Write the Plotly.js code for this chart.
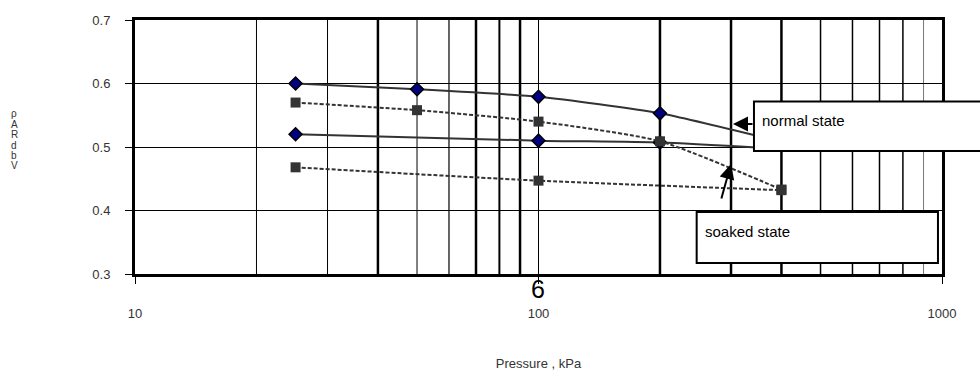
<!DOCTYPE html>
<html>
<head>
<meta charset="utf-8">
<script src="https://cdn.plot.ly/plotly-3.0.1.min.js"></script>
<style>html,body{margin:0;padding:0;background:#fff;}</style>
</head>
<body>
<div id="chart" style="width:980px;height:376px;"></div>
<script>
// ---- data ----
var normalUpperX = [25, 50, 100, 200, 400];
var normalUpperY = [0.600, 0.591, 0.579, 0.553, 0.508];
var normalLowerX = [25, 100, 200, 400];
var normalLowerY = [0.520, 0.510, 0.507, 0.497];
var soakedUpperX = [25, 50, 100, 200, 400];
var soakedUpperY = [0.570, 0.558, 0.540, 0.509, 0.433];
var soakedLowerX = [25, 100, 400];
var soakedLowerY = [0.468, 0.447, 0.432];
var xTickVals = [10, 100, 1000];
var xTickText = ["10", "100", "1000"];
var yTickVals = [0.3, 0.4, 0.5, 0.6, 0.7];
var yTickText = ["0.3", "0.4", "0.5", "0.6", "0.7"];
var yTitleChars = ["ρ", "A", "R", "d", "b", "V"];
var labelNormal = "normal state";
var labelSoaked = "soaked state";
var xTitle = "Pressure , kPa";
var strayText = "6";

// ---- styling helpers ----
var FONT = "Liberation Sans, Arial, sans-serif";
var gridX = [20, 30, 40, 50, 60, 70, 80, 90, 100, 200, 300, 400, 500, 600, 700, 800, 900];
var gridW = [1, 1, 2.5, 1, 1.2, 2.5, 2, 2.5, 1, 2.5, 2.5, 2.5, 1.5, 1.5, 1.5, 1.5, 1];
var gridC = ["#000","#000","#000","#000","#000","#000","#000","#000","#000","#000","#000","#000","#000","#000","#000","#000","#777"];

var shapes = gridX.map(function (v, i) {
  return {type: 'line', xref: 'x', yref: 'paper', x0: v, x1: v, y0: 0, y1: 1,
          line: {color: gridC[i], width: gridW[i]}, layer: 'below'};
});
// label boxes
shapes.push({type: 'rect', xref: 'paper', yref: 'paper', x0: 0.767, x1: 1.06, y0: 0.484, y1: 0.679,
             fillcolor: '#fff', line: {color: '#000', width: 2}, layer: 'above'});
shapes.push({type: 'rect', xref: 'paper', yref: 'paper', x0: 0.696, x1: 0.995, y0: 0.043, y1: 0.244,
             fillcolor: '#fff', line: {color: '#000', width: 2}, layer: 'above'});

var solid = {color: '#333', width: 2, shape: 'spline', smoothing: 0.6};
var dashed = {color: '#333', width: 2, dash: '4px,2px', shape: 'spline', smoothing: 0.6};
var diamond = {symbol: 'diamond', size: 10, color: '#000080', line: {color: '#000', width: 1.5}};
var square = {symbol: 'square', size: 10, color: '#333', line: {color: '#333', width: 0}};

// markers of points hidden behind the label box in the original are not drawn
function visibleIdx(xs) { return xs.map(function (v, i) { return v < 400 ? i : -1; }).filter(function (i) { return i >= 0; }); }
function pick(arr, idx) { return idx.map(function (i) { return arr[i]; }); }
var nuI = visibleIdx(normalUpperX), nlI = visibleIdx(normalLowerX);

var traces = [
  {x: normalUpperX, y: normalUpperY, mode: 'lines', line: solid, name: 'normal 1'},
  {x: pick(normalUpperX, nuI), y: pick(normalUpperY, nuI), mode: 'markers', marker: diamond, name: 'normal 1 pts'},
  {x: normalLowerX, y: normalLowerY, mode: 'lines', line: solid, name: 'normal 2'},
  {x: pick(normalLowerX, nlI), y: pick(normalLowerY, nlI), mode: 'markers', marker: diamond, name: 'normal 2 pts'},
  {x: soakedUpperX, y: soakedUpperY, mode: 'lines+markers', line: dashed, marker: square, name: 'soaked 1'},
  {x: soakedLowerX, y: soakedLowerY, mode: 'lines+markers', line: dashed, marker: square, name: 'soaked 2'}
];

var annotations = [
  {xref: 'paper', yref: 'paper', x: 0.7745, y: 0.606, xanchor: 'left', yanchor: 'middle',
   text: labelNormal, showarrow: false, font: {family: FONT, size: 15, color: '#000'}},
  {xref: 'paper', yref: 'paper', x: 0.704, y: 0.169, xanchor: 'left', yanchor: 'middle',
   text: labelSoaked, showarrow: false, font: {family: FONT, size: 15, color: '#000'}},
  {xref: 'paper', yref: 'paper', x: 0.741, y: 0.5906, text: '', showarrow: true,
   ax: 21, ay: 0, arrowhead: 2, arrowsize: 1.5, arrowwidth: 2, arrowcolor: '#000'},
  {xref: 'paper', yref: 'paper', x: 0.7385, y: 0.433, text: '', showarrow: true,
   ax: -10, ay: 36, arrowhead: 2, arrowsize: 1.5, arrowwidth: 2, arrowcolor: '#000'},
  {xref: 'paper', yref: 'paper', x: 0.4994, y: -0.059, xanchor: 'center', yanchor: 'middle',
   text: strayText, showarrow: false, font: {family: FONT, size: 25, color: '#000'}}
];
var yCharPx = [113, 124, 134, 145, 155, 165];
yTitleChars.forEach(function (c, i) {
  annotations.push({xref: 'paper', yref: 'paper', x: (14 - 135) / 807, y: (274 - yCharPx[i]) / 254,
    xanchor: 'center', yanchor: 'middle', text: c, showarrow: false,
    font: {family: FONT, size: 10, color: '#333'}});
});

var layout = {
  width: 980, height: 376,
  margin: {l: 135, r: 38, t: 20, b: 102},
  paper_bgcolor: '#fff', plot_bgcolor: '#fff',
  showlegend: false,
  font: {family: FONT, size: 13, color: '#333'},
  xaxis: {
    type: 'log', range: [1, 3], tickvals: xTickVals, ticktext: xTickText,
    ticks: 'outside', ticklen: 7, tickwidth: 1, tickcolor: '#000',
    showline: true, linewidth: 3, linecolor: '#000', mirror: true,
    showgrid: false, zeroline: false, ticklabelstandoff: 18,
    tickfont: {family: FONT, size: 13, color: '#333'},
    title: {text: xTitle, font: {family: FONT, size: 13, color: '#333'}, standoff: 40}
  },
  yaxis: {
    range: [0.3, 0.7], tickvals: yTickVals, ticktext: yTickText,
    ticks: 'outside', ticklen: 7, tickwidth: 1, tickcolor: '#000',
    showline: true, linewidth: 3, linecolor: '#000', mirror: true,
    showgrid: true, gridcolor: '#000', gridwidth: 1, zeroline: false,
    ticklabelstandoff: 12,
    tickfont: {family: FONT, size: 13, color: '#333'}
  },
  shapes: shapes,
  annotations: annotations
};

Plotly.newPlot('chart', traces, layout, {displayModeBar: false, staticPlot: true});
</script>
</body>
</html>
